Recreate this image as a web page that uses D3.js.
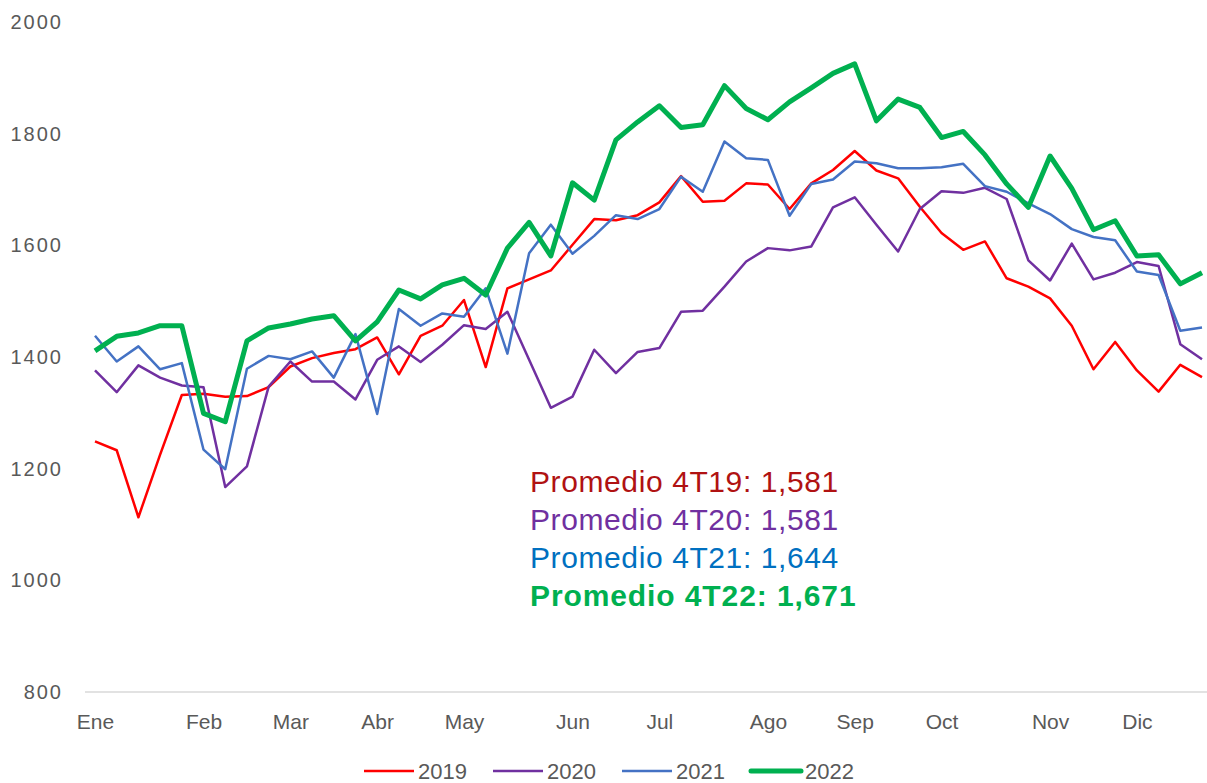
<!DOCTYPE html>
<html>
<head>
<meta charset="utf-8">
<script src="https://cdn.jsdelivr.net/npm/d3@7"></script>
<style>
  body { margin: 0; background: #fff; }
  text { font-family: "Liberation Sans", Arial, sans-serif; }
</style>
</head>
<body>
<div id="chart"></div>
<script>
var months = ['Ene','Feb','Mar','Abr','May','Jun','Jul','Ago','Sep','Oct','Nov','Dic']
var monthWeek = [0, 5, 9, 13, 17, 22, 26, 31, 35, 39, 44, 48]
var yTicks = [800, 1000, 1200, 1400, 1600, 1800, 2000]

var v2019 = [1249,1233,1113,1225,1332,1334,1329,1330,1346,1383,1398,1407,1414,1435,1369,1438,1456,1502,1382,1523,1539,1555,1601,1647,1645,1654,1677,1724,1678,1680,1711,1709,1665,1711,1735,1769,1734,1720,1669,1622,1592,1607,1541,1526,1505,1456,1378,1427,1376,1338,1386,1364]
var v2020 = [1376,1337,1385,1363,1349,1346,1167,1204,1347,1392,1356,1356,1324,1395,1419,1391,1422,1457,1450,1481,1395,1309,1329,1413,1371,1409,1416,1481,1483,1526,1571,1595,1591,1598,1668,1686,1637,1589,1665,1697,1694,1703,1683,1573,1537,1603,1539,1551,1570,1563,1423,1396]
var v2021 = [1438,1392,1419,1378,1389,1234,1199,1379,1402,1396,1410,1363,1441,1298,1486,1456,1478,1472,1523,1406,1586,1637,1585,1617,1654,1647,1665,1723,1696,1786,1756,1753,1653,1710,1718,1750,1747,1738,1738,1740,1746,1706,1696,1675,1656,1629,1615,1609,1553,1547,1447,1453]
var v2022 = [1411,1437,1443,1456,1456,1299,1284,1429,1452,1459,1468,1474,1429,1463,1520,1504,1529,1541,1511,1595,1641,1581,1712,1681,1789,1821,1850,1811,1816,1886,1845,1825,1857,1882,1908,1925,1823,1862,1847,1793,1804,1762,1710,1668,1760,1702,1628,1644,1581,1583,1531,1551]

var series = [
    { name: '2019', values: v2019, color: '#ff0000', w: 2.5 },
    { name: '2020', values: v2020, color: '#7030a0', w: 2.5 },
    { name: '2021', values: v2021, color: '#4472c4', w: 2.5 },
    { name: '2022', values: v2022, color: '#00b050', w: 5 }
]

var notes = [
    { text: 'Promedio 4T19: 1,581', color: '#b01212', bold: false },
    { text: 'Promedio 4T20: 1,581', color: '#7030a0', bold: false },
    { text: 'Promedio 4T21: 1,644', color: '#0070c0', bold: false },
    { text: 'Promedio 4T22: 1,671', color: '#00b050', bold: true }
]

var width = 1207, height = 783

var svg = d3.select('#chart')
    .append('svg')
    .attr('width', width)
    .attr('height', height)

var x = d3.scaleLinear().domain([0, 51]).range([95, 1202])
var y = d3.scaleLinear().domain([800, 2000]).range([692, 22])

// y axis labels only
var yAxis = svg.append('g')
    .attr('transform', 'translate(63,0)')
    .call(d3.axisLeft(y).tickValues(yTicks).tickSize(0).tickPadding(0).tickFormat(d3.format('d')))
yAxis.select('.domain').remove()
yAxis.selectAll('text')
    .attr('fill', '#595959')
    .style('font-size', '20px')
    .style('letter-spacing', '2px')
    .style('font-family', '"Liberation Sans", Arial, sans-serif')

// baseline
svg.append('line')
    .attr('x1', 85).attr('x2', 1207)
    .attr('y1', y(800)).attr('y2', y(800))
    .attr('stroke', '#d9d9d9')
    .attr('stroke-width', 1.3)

var xAxis = svg.append('g')
    .attr('transform', 'translate(0,' + y(800) + ')')
    .call(d3.axisBottom(x).tickValues(monthWeek)
        .tickFormat(function(d, i) { return months[i] })
        .tickSize(0).tickPadding(22))
xAxis.select('.domain').remove()
xAxis.selectAll('text')
    .attr('fill', '#595959')
    .style('font-size', '21px')
    .style('font-family', '"Liberation Sans", Arial, sans-serif')

var line = d3.line()
    .x(function(d, i) { return x(i) })
    .y(function(d) { return y(d) })

svg.selectAll('.series')
    .data(series)
    .enter().append('path')
    .attr('class', 'series')
    .attr('d', function(d) { return line(d.values) })
    .attr('fill', 'none')
    .attr('stroke', function(d) { return d.color })
    .attr('stroke-width', function(d) { return d.w })
    .attr('stroke-linejoin', 'round')

// averages annotation
svg.selectAll('.note')
    .data(notes)
    .enter().append('text')
    .attr('class', 'note')
    .attr('x', 530)
    .attr('y', function(d, i) { return 492 + i * 38 })
    .attr('fill', function(d) { return d.color })
    .attr('font-weight', function(d) { return d.bold ? 'bold' : 'normal' })
    .style('font-size', '30px')
    .style('letter-spacing', function(d) { return d.bold ? '0.9px' : '0.6px' })
    .text(function(d) { return d.text })

// legend
var legend = svg.selectAll('.legend')
    .data(series)
    .enter().append('g')
    .attr('class', 'legend')
    .attr('transform', function(d, i) { return 'translate(' + (364 + i * 129) + ',771)' })

legend.append('line')
    .attr('x1', 0).attr('x2', 50)
    .attr('stroke', function(d) { return d.color })
    .attr('stroke-width', function(d) { return d.w })
    .attr('stroke-linecap', function(d) { return d.w > 3 ? 'round' : 'butt' })

legend.append('text')
    .attr('x', 54)
    .attr('y', 8)
    .attr('fill', '#595959')
    .style('font-size', '22px')
    .text(function(d) { return d.name })
</script>
</body>
</html>
